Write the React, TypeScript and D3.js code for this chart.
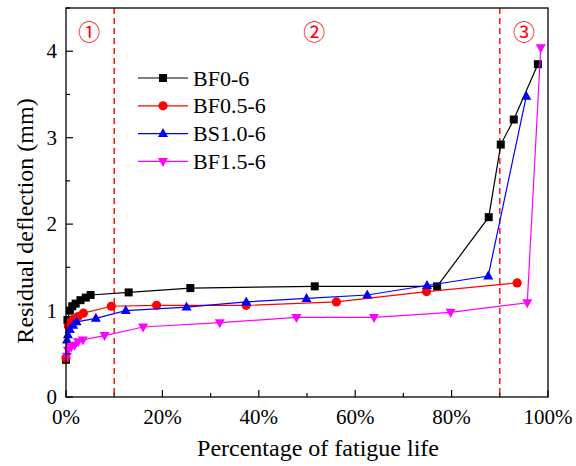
import React from "react";
import * as d3 from "d3";

const bf0x = [0, 0.3, 0.8, 1.3, 2.0, 3.0, 4.1, 5.1, 13, 25.8, 51.6, 77.0, 87.7, 90.2, 92.9, 97.9];
const bf0y = [0.43, 0.89, 1.0, 1.05, 1.08, 1.12, 1.15, 1.18, 1.21, 1.26, 1.28, 1.28, 2.08, 2.92, 3.21, 3.85];

const bf05x = [0, 0.5, 1.0, 1.5, 2.5, 3.6, 9.4, 18.8, 37.4, 56.1, 74.8, 93.6];
const bf05y = [0.45, 0.82, 0.87, 0.9, 0.93, 0.97, 1.05, 1.06, 1.06, 1.1, 1.22, 1.32];

const bs10x = [0.2, 0.4, 0.8, 1.5, 2.2, 6.2, 12.4, 25.0, 37.4, 49.9, 62.5, 74.9, 87.6, 95.5];
const bs10y = [0.66, 0.72, 0.78, 0.83, 0.87, 0.91, 1.0, 1.04, 1.1, 1.14, 1.18, 1.29, 1.4, 3.48];

const bf15x = [0.2, 0.4, 1.1, 1.8, 2.5, 3.5, 8.0, 16.0, 31.9, 47.8, 63.9, 79.8, 95.7, 98.5];
const bf15y = [0.47, 0.54, 0.58, 0.6, 0.64, 0.66, 0.71, 0.81, 0.86, 0.92, 0.92, 0.98, 1.09, 4.04];

const seriesNames = ["BF0-6", "BF0.5-6", "BS1.0-6", "BF1.5-6"];
const seriesColors = ["#000000", "#ff0000", "#0000ff", "#ff00ff"];
const seriesMarkers = ["square", "circle", "triangle", "triangleDown"];

const xTicks = [0, 20, 40, 60, 80, 100];
const xMinor = [10, 30, 50, 70, 90];
const yTicks = [0, 1, 2, 3, 4];
const yMinor = [0.5, 1.5, 2.5, 3.5, 4.5];
const stageLines = [10, 90];
const stageLabels = ["①", "②", "③"];
const stageLabelX = [4.8, 51.5, 95];

const W = 576, H = 466;
const M = { left: 66, right: 548, top: 8, bottom: 397 };
const serif = "Liberation Serif";

function Marker({ type, x, y, color }: { type: string; x: number; y: number; color: string }) {
  if (type === "square") return <rect x={x - 4} y={y - 4} width={8} height={8} fill={color} />;
  if (type === "circle") return <circle cx={x} cy={y} r={4.6} fill={color} />;
  if (type === "triangle")
    return <path d={`M${x},${y - 5.5} L${x + 5},${y + 3.5} L${x - 5},${y + 3.5} Z`} fill={color} />;
  return <path d={`M${x},${y + 5.5} L${x + 5},${y - 3.5} L${x - 5},${y - 3.5} Z`} fill={color} />;
}

export default function App() {
  const x = d3.scaleLinear().domain([0, 100]).range([M.left, M.right]);
  const y = d3.scaleLinear().domain([0, 4.5]).range([M.bottom, M.top]);
  const data = [
    bf0x.map((v, i) => [v, bf0y[i]]),
    bf05x.map((v, i) => [v, bf05y[i]]),
    bs10x.map((v, i) => [v, bs10y[i]]),
    bf15x.map((v, i) => [v, bf15y[i]]),
  ];
  const line = d3.line<number[]>().x((d) => x(d[0])).y((d) => y(d[1]));
  const legX = 138, legY0 = 78, legDy = 27.8;

  return (
    <svg width={W} height={H} style={{ display: "block", position: "absolute", left: 0, top: 0, background: "#fff" }}>
      <rect width={W} height={H} fill="#fff" />
      {stageLines.map((v) => (
        <line key={v} x1={x(v)} x2={x(v)} y1={M.top} y2={M.bottom} stroke="#ff0000" strokeWidth={1.4} strokeDasharray="6,4" />
      ))}
      {stageLabels.map((s, i) => (
        <text key={s} x={x(stageLabelX[i])} y={34} textAnchor="middle" dominantBaseline="middle" fill="#ff0000"
          fontSize={22} fontFamily="Noto Sans CJK SC">{s}</text>
      ))}
      {data.map((d, i) => (
        <g key={i}>
          <path d={line(d as any) || ""} fill="none" stroke={seriesColors[i]} strokeWidth={1.2} />
          {d.map((p, j) => (
            <Marker key={j} type={seriesMarkers[i]} x={x(p[0])} y={y(p[1])} color={seriesColors[i]} />
          ))}
        </g>
      ))}
      <rect x={M.left} y={M.top} width={M.right - M.left} height={M.bottom - M.top} fill="none" stroke="#000" strokeWidth={1.3} />
      {xTicks.map((t) => (
        <g key={t}>
          <line x1={x(t)} x2={x(t)} y1={M.bottom} y2={M.bottom - 7} stroke="#000" strokeWidth={1.2} />
          <text x={x(t)} y={423.5} textAnchor="middle" fontSize={21} fontFamily={serif} fill="#000">{t}%</text>
        </g>
      ))}
      {xMinor.map((t) => (
        <line key={t} x1={x(t)} x2={x(t)} y1={M.bottom} y2={M.bottom - 4} stroke="#000" strokeWidth={1.2} />
      ))}
      {yTicks.map((t) => (
        <g key={t}>
          <line x1={M.left} x2={M.left + 7} y1={y(t)} y2={y(t)} stroke="#000" strokeWidth={1.2} />
          <text x={57} y={y(t) + 7} textAnchor="end" fontSize={21} fontFamily={serif} fill="#000">{t}</text>
        </g>
      ))}
      {yMinor.map((t) => (
        <line key={t} x1={M.left} x2={M.left + 4} y1={y(t)} y2={y(t)} stroke="#000" strokeWidth={1.2} />
      ))}
      <text x={318} y={456} textAnchor="middle" fontSize={24} fontFamily={serif} fill="#000">
        Percentage of fatigue life
      </text>
      <text transform={`translate(33,221) rotate(-90)`} textAnchor="middle" fontSize={24}
        fontFamily={serif} fill="#000">Residual deflection (mm)</text>
      {seriesNames.map((n, i) => (
        <g key={n}>
          <line x1={legX} x2={legX + 50} y1={legY0 + i * legDy} y2={legY0 + i * legDy} stroke={seriesColors[i]} strokeWidth={1.2} />
          <Marker type={seriesMarkers[i]} x={legX + 25} y={legY0 + i * legDy} color={seriesColors[i]} />
          <text x={legX + 55} y={legY0 + i * legDy + 7.5} fontSize={22} fontFamily={serif} fill="#000">{n}</text>
        </g>
      ))}
    </svg>
  );
}
